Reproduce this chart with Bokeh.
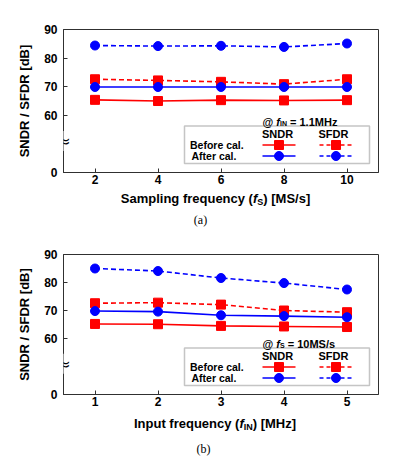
from bokeh.plotting import figure
from bokeh.models import Range1d, Label, BoxAnnotation, FixedTicker
from bokeh.layouts import column
from bokeh.embed import file_html
from bokeh.resources import INLINE

# ---------------- data ----------------
fs = [2, 4, 6, 8, 10]
a_sndr_before = [65.4, 65.0, 65.3, 65.2, 65.3]
a_sndr_after = [69.9, 69.9, 69.9, 69.9, 69.9]
a_sfdr_before = [72.6, 72.2, 71.7, 70.9, 72.6]
a_sfdr_after = [84.4, 84.2, 84.3, 83.9, 85.1]

fin = [1, 2, 3, 4, 5]
b_sndr_before = [65.2, 65.1, 64.5, 64.3, 64.1]
b_sndr_after = [69.8, 69.6, 68.3, 68.0, 67.6]
b_sfdr_before = [72.6, 72.8, 72.1, 70.0, 69.4]
b_sfdr_after = [85.0, 84.1, 81.6, 79.8, 77.5]

y_ticks = [40, 60, 70, 80, 90]
y_tick_labels = {40: "0", 60: "60", 70: "70", 80: "80", 90: "90"}
a_ticks = [2, 4, 6, 8, 10]
b_ticks = [1, 2, 3, 4, 5]

RED = "#FF0000"
BLUE = "#0000FF"
FONT = "Liberation Sans"
AXC = "#303030"
FIG_W = 387
ML, MR = 63, 9

# Arial-bold advance widths (per 1000 em) for composing rich labels
W = {' ': 278, '(': 333, ')': 333, '[': 333, ']': 333, '/': 278, '@': 975, '=': 584,
     '.': 278, 'A': 722, 'B': 722, 'D': 722, 'F': 611, 'H': 722, 'I': 278, 'M': 833,
     'N': 722, 'R': 722, 'S': 667, 'a': 556, 'c': 556, 'e': 556, 'f': 333, 'g': 611,
     'i': 278, 'l': 278, 'm': 889, 'n': 611, 'o': 611, 'p': 611, 'q': 611, 'r': 389,
     's': 556, 't': 333, 'u': 611, 'y': 556, 'z': 500}


def twidth(t, size):
    return sum(W.get(c, 556) for c in t) * size / 1000.0


def rich(p, pieces, x, y, align="center"):
    """pieces: list of (text, style, size, dy). x,y in screen units rel. frame."""
    total = sum(twidth(t, s) for t, st, s, dy in pieces)
    cx = x - total / 2 if align == "center" else x
    for t, st, s, dy in pieces:
        lead = len(t) - len(t.lstrip(" "))
        txt = t.strip(" ")
        p.add_layout(Label(x=cx + twidth(" " * lead, s), y=y + dy, x_units="screen",
                           y_units="screen", text=txt,
                           text_font=FONT, text_font_size=f"{s}px", text_font_style=st,
                           text_align="left", text_baseline="alphabetic",
                           text_color="black"))
        cx += twidth(t, s)


def make_panel(x, xr, xticks, sndr_b, sndr_a, sfdr_b, sfdr_a, height, top, bottom,
               note_pieces):
    p = figure(width=FIG_W, height=height, output_backend="svg", toolbar_location=None,
               x_range=Range1d(*xr), y_range=Range1d(40, 90),
               min_border_left=ML, min_border_right=MR, min_border_top=top,
               min_border_bottom=bottom)
    p.background_fill_color = "white"
    p.border_fill_color = "white"
    p.outline_line_color = AXC
    p.outline_line_width = 1
    p.xgrid.visible = False
    p.ygrid.visible = False
    frame_w = FIG_W - ML - MR
    frame_h = height - top - bottom

    for ax in (p.xaxis[0], p.yaxis[0]):
        ax.major_tick_in = 4
        ax.major_tick_out = 0
        ax.minor_tick_line_color = None
        ax.axis_line_color = AXC
        ax.major_tick_line_color = AXC
        ax.major_label_text_font = FONT
        ax.major_label_text_font_style = "bold"
        ax.major_label_text_font_size = "12px"
        ax.major_label_text_color = "black"
    p.xaxis.ticker = FixedTicker(ticks=xticks)
    p.xaxis.major_label_standoff = 2
    p.yaxis.ticker = FixedTicker(ticks=y_ticks)
    p.yaxis.major_label_overrides = y_tick_labels
    p.yaxis.major_label_standoff = 6
    p.yaxis.axis_label = "SNDR / SFDR [dB]"
    p.yaxis.axis_label_text_font = FONT
    p.yaxis.axis_label_text_font_style = "bold"
    p.yaxis.axis_label_text_font_size = "13px"
    p.yaxis.axis_label_text_color = "black"
    p.yaxis.axis_label_standoff = 9

    # axis break symbol
    p.add_layout(Label(x=xr[0], y=51, text="\u2248", text_align="center",
                       text_baseline="middle", text_font="DejaVu Sans",
                       text_font_size="17px", text_color="black",
                       background_fill_color="white"))

    # legend box (screen units relative to frame), drawn under glyphs
    p.add_layout(BoxAnnotation(left=121, right=306, bottom=9, top=46.5,
                               left_units="screen", right_units="screen",
                               bottom_units="screen", top_units="screen",
                               fill_color="white", fill_alpha=1.0,
                               line_color="#404040", line_width=1.5, level="underlay"))

    # data
    p.line(x, sndr_b, line_color=RED, line_width=1.6)
    p.scatter(x, sndr_b, marker="square", size=9, fill_color=RED, line_color=RED)
    p.line(x, sfdr_b, line_color=RED, line_width=1.6, line_dash="5 3")
    p.scatter(x, sfdr_b, marker="square", size=9, fill_color=RED, line_color=RED)
    p.line(x, sndr_a, line_color=BLUE, line_width=1.6)
    p.scatter(x, sndr_a, marker="circle", size=9, fill_color=BLUE, line_color=BLUE)
    p.line(x, sfdr_a, line_color=BLUE, line_width=1.6, line_dash="5 3")
    p.scatter(x, sfdr_a, marker="circle", size=9, fill_color=BLUE, line_color=BLUE)

    def dx(px):
        return xr[0] + px * (xr[1] - xr[0]) / frame_w

    def dy(px):
        return 40 + px * 50 / frame_h

    rows = [(27.5, "Before cal.", RED, "square", 126.5),
            (16.5, "After cal.", BLUE, "circle", 128)]
    for ry, txt, col, mk, lx in rows:
        p.add_layout(Label(x=lx, y=ry, x_units="screen", y_units="screen", text=txt,
                           text_font=FONT, text_font_size="10.5px", text_font_style="bold",
                           text_baseline="middle", text_color="black"))
        p.line([dx(199), dx(232)], [dy(ry), dy(ry)], line_color=col, line_width=1.6)
        p.scatter([dx(215.5)], [dy(ry)], marker=mk, size=9, fill_color=col, line_color=col)
        p.line([dx(256), dx(289)], [dy(ry), dy(ry)], line_color=col, line_width=1.6,
               line_dash="4 3")
        p.scatter([dx(272.5)], [dy(ry)], marker=mk, size=9, fill_color=col, line_color=col)
    for hx, ht in ((214, "SNDR"), (270, "SFDR")):
        p.add_layout(Label(x=hx, y=39, x_units="screen", y_units="screen", text=ht,
                           text_font=FONT, text_font_size="11px", text_font_style="bold",
                           text_align="center", text_baseline="middle",
                           text_color="black"))

    # condition note
    rich(p, note_pieces, 199, 51, align="left")
    return p


def make_strip(height, xlabel_pieces, xlabel_cx, xlabel_base, caption, cap_cx,
               cap_mid):
    # a text-only strip under each panel; x offsets are page positions - ML
    s = figure(width=FIG_W, height=height, output_backend="svg", toolbar_location=None,
               x_range=Range1d(0, 1), y_range=Range1d(0, 1),
               min_border_left=ML, min_border_right=MR,
               min_border_top=0, min_border_bottom=0)
    s.axis.visible = False
    s.grid.visible = False
    s.outline_line_color = None
    s.background_fill_color = "white"
    s.border_fill_color = "white"
    rich(s, xlabel_pieces, xlabel_cx - ML, height - xlabel_base)
    s.add_layout(Label(x=cap_cx - ML, y=height - cap_mid, x_units="screen",
                       y_units="screen", text=caption, text_font="Liberation Serif",
                       text_font_size="12px", text_align="center",
                       text_baseline="middle", text_color="black"))
    return s


pa = make_panel(
    fs, (1, 11), a_ticks, a_sndr_before, a_sndr_after, a_sfdr_before, a_sfdr_after,
    height=190, top=29, bottom=18,
    note_pieces=[("@ ", "bold", 11, 0), ("f", "bold italic", 11, 0), ("IN", "bold", 7, -2),
                 (" = 1.1MHz", "bold", 11, 0)])
sa = make_strip(
    42,
    xlabel_pieces=[("Sampling frequency (", "bold", 13, 0), ("f", "bold italic", 13, 0),
                   ("S", "bold", 9, -3), (") [MS/s]", "bold", 13, 0)],
    xlabel_cx=215, xlabel_base=8, caption="(a)", cap_cx=200, cap_mid=29)

pb = make_panel(
    fin, (0.5, 5.5), b_ticks, b_sndr_before, b_sndr_after, b_sfdr_before, b_sfdr_after,
    height=180, top=22, bottom=18,
    note_pieces=[("@ ", "bold", 11, 0), ("f", "bold italic", 11, 0), ("S", "bold", 7, -2),
                 (" = 10MS/s", "bold", 11, 0)])
sb = make_strip(
    52,
    xlabel_pieces=[("Input frequency (", "bold", 13, 0), ("f", "bold italic", 13, 0),
                   ("IN", "bold", 9, -3), (") [MHz]", "bold", 13, 0)],
    xlabel_cx=214.5, xlabel_base=11, caption="(b)", cap_cx=203, cap_mid=36)

layout = column(pa, sa, pb, sb, spacing=0)
open("out.html", "w").write(file_html(layout, INLINE))
